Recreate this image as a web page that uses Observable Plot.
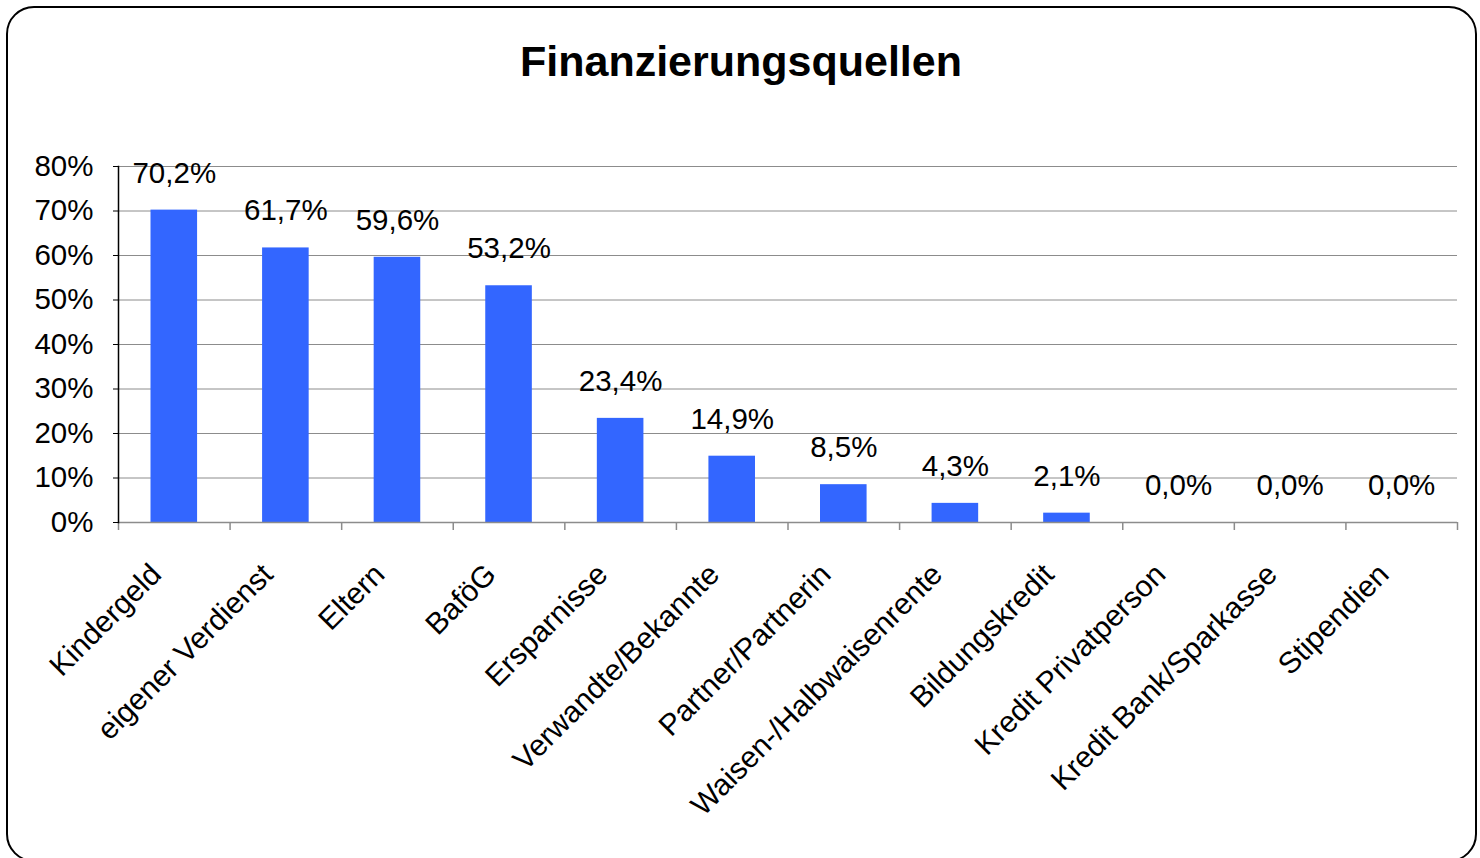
<!DOCTYPE html>
<html>
<head>
<meta charset="utf-8">
<script src="https://cdn.jsdelivr.net/npm/d3@7"></script>
<script src="https://cdn.jsdelivr.net/npm/@observablehq/plot@0.6"></script>
<style>
  html, body { margin: 0; padding: 0; background: #fff; overflow: hidden; width: 1480px; height: 858px; }
  #chart { position: absolute; left: 0; top: 0; }
  #border { position: absolute; left: 6px; top: 6px; width: 1467px; height: 852px; border: 2px solid #000; border-radius: 28px; pointer-events: none; }
  #title { position: absolute; left: 0; width: 1482px; top: 40px; text-align: center; font: bold 43px/43px "Liberation Sans", Arial, sans-serif; color: #000; }
</style>
</head>
<body>
<div id="chart"></div>
<div id="title">Finanzierungsquellen</div>
<div id="border"></div>
<script>
const categories = ["Kindergeld", "eigener Verdienst", "Eltern", "BaföG", "Ersparnisse", "Verwandte/Bekannte", "Partner/Partnerin", "Waisen-/Halbwaisenrente", "Bildungskredit", "Kredit Privatperson", "Kredit Bank/Sparkasse", "Stipendien"];
const values = [70.2, 61.7, 59.6, 53.2, 23.4, 14.9, 8.5, 4.3, 2.1, 0.0, 0.0, 0.0];
const yTicks = [0, 10, 20, 30, 40, 50, 60, 70, 80];

const data = categories.map((c, i) => ({category: c, value: values[i]}));

const W = 1480, H = 858, mL = 118, mR = 23, mT = 166, mB = 336;
const bw = (W - mL - mR) / categories.length;
const font = '"Liberation Sans", Arial, sans-serif';
const grid = "#8c8c8c";

const plot = Plot.plot({
  width: W, height: H,
  marginLeft: mL, marginRight: mR, marginTop: mT, marginBottom: mB,
  style: {background: "transparent", fontFamily: font, color: "#000"},
  x: {type: "band", domain: categories, padding: 0, round: false, axis: null},
  y: {domain: [0, 80], axis: null, label: null},
  marks: [
    Plot.gridY(yTicks.filter(t => t > 0), {stroke: grid, strokeOpacity: 1, strokeWidth: 1}),
    Plot.barY(data, {x: "category", y: "value", fill: "#3366FF", insetLeft: 32.5, insetRight: 32.5}),
    Plot.ruleY([0], {stroke: grid, strokeWidth: 1.5}),
    Plot.ruleX(categories, {x: d => d, y1: 0, y2: -1.8, dx: -bw / 2, stroke: grid, strokeWidth: 1.5}),
    Plot.ruleX([categories[categories.length - 1]], {x: d => d, y1: 0, y2: -1.8, dx: bw / 2, stroke: grid, strokeWidth: 1.5}),
    Plot.frame({anchor: "left", stroke: "#000", strokeWidth: 1.5}),
    Plot.axisY({ticks: yTicks, tickSize: 5, tickPadding: 20, tickFormat: d => d + "%", fontSize: 29.5, stroke: "#000", fill: "#000", label: null}),
    Plot.text(data, {x: "category", y: "value", text: d => d.value.toFixed(1).replace(".", ",") + "%", dy: -37, fontSize: 29.5, fill: "#000", lineAnchor: "middle"}),
    Plot.text(categories, {x: d => d, y: () => 0, text: d => d, rotate: -45, textAnchor: "end", lineAnchor: "middle", dy: 47, dx: -18, fontSize: 30, fill: "#000"})
  ]
});
document.getElementById("chart").appendChild(plot);
</script>
</body>
</html>
